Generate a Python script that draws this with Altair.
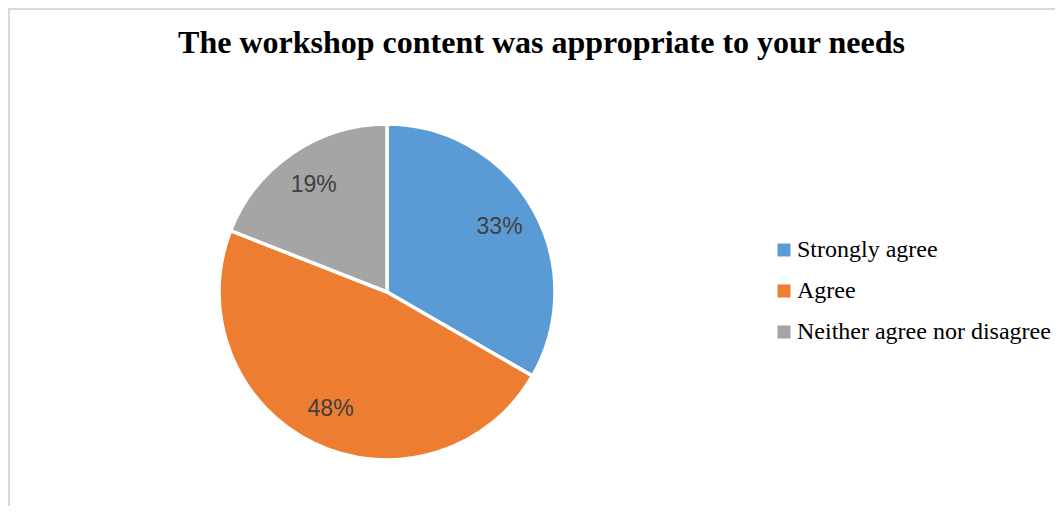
import altair as alt
import pandas as pd

categories = ["Strongly agree", "Agree", "Neither agree nor disagree"]
counts = [7, 10, 4]
labels = ["33%", "48%", "19%"]
colors = ["#5B9BD5", "#ED7D31", "#A5A5A5"]
title_text = "The workshop content was appropriate to your needs"

df = pd.DataFrame({
    "category": categories,
    "count": counts,
    "label": labels,
    "order": list(range(len(categories))),
})

W, H = 1047, 498
CX, CY = 379, 284

color = alt.Color(
    "category:N",
    scale=alt.Scale(domain=categories, range=colors),
    sort=categories,
    legend=alt.Legend(
        title=None,
        orient="none",
        legendX=764,
        legendY=230,
        symbolType="square",
        symbolSize=169,
        symbolStrokeWidth=0,
        labelFont="Liberation Serif",
        labelFontSize=24,
        labelColor="#000000",
        labelOffset=1,
        rowPadding=17,
        padding=0,
        labelLimit=400,
    ),
)

base = alt.Chart(df).encode(
    theta=alt.Theta("count:Q", stack=True),
    order=alt.Order("order:Q"),
)

pie = base.mark_arc(outerRadius=168, stroke="white", strokeWidth=3.5).encode(
    color=color,
    x=alt.value(CX),
    y=alt.value(CY),
)

text = base.mark_text(
    radius=130,
    font="Liberation Sans",
    fontSize=23,
    color="#404040",
).encode(
    text="label:N",
    x=alt.value(CX),
    y=alt.value(CY),
)

border_left = alt.Chart(df).mark_rule(color="#d9d9d9", strokeWidth=2).encode(
    x=alt.value(1), y=alt.value(0), y2=alt.value(H)
)
border_top = alt.Chart(df).mark_rule(color="#d9d9d9", strokeWidth=2).encode(
    x=alt.value(0), x2=alt.value(W), y=alt.value(1)
)

chart = alt.layer(border_left, border_top, pie, text).properties(
    width=W,
    height=H,
    autosize=alt.AutoSizeParams(type="none"),
    padding=0,
    title=alt.TitleParams(
        text=title_text,
        font="Liberation Serif",
        fontSize=32,
        fontWeight="bold",
        color="#000000",
        anchor="middle",
        frame="group",
        baseline="alphabetic",
        offset=0,
        dx=10,
        dy=78,
    ),
).configure_view(strokeWidth=0).configure_legend(
    labelFont="Liberation Serif"
)

chart.save("out.html", embed_options={"renderer": "svg", "actions": False})
